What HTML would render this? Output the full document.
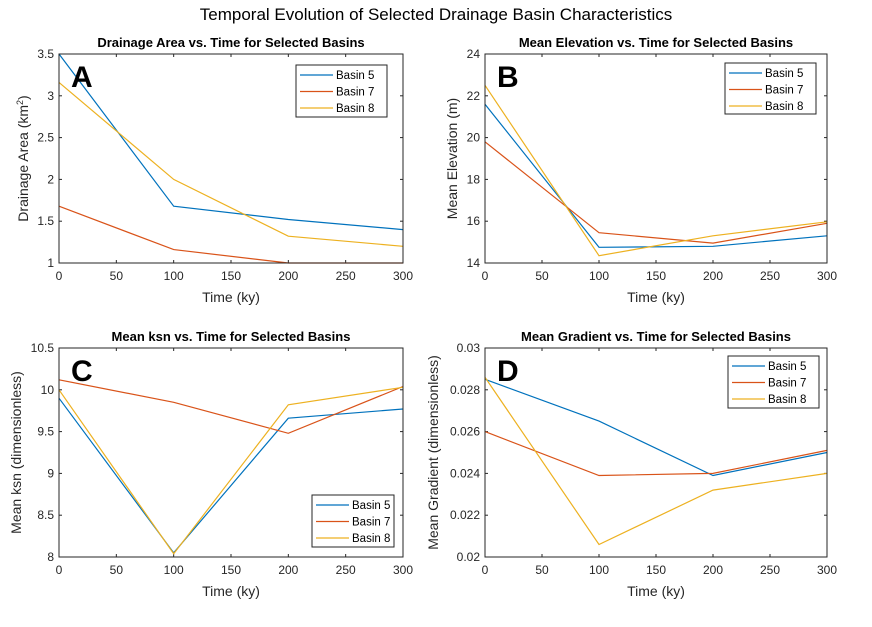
<!DOCTYPE html>
<html><head><meta charset="utf-8"><style>
html,body{margin:0;padding:0;background:#fff;}
svg{display:block;font-family:"Liberation Sans",Arial,sans-serif;}
</style></head><body>
<svg id="fig" width="872" height="627" viewBox="0 0 872 627">
<rect width="872" height="627" fill="#fff"/>
<text x="436" y="20" text-anchor="middle" font-size="17" fill="#000">Temporal Evolution of Selected Drainage Basin Characteristics</text>
</svg>
<script>
const times = [0, 100, 200, 300];
const seriesNames = ["Basin 5", "Basin 7", "Basin 8"];
const colors = ["#0072BD", "#D95319", "#EDB120"];
const xTicks = [0, 50, 100, 150, 200, 250, 300];

const areaB5 = [3.5, 1.68, 1.52, 1.40];
const areaB7 = [1.68, 1.16, 1.0, 1.0];
const areaB8 = [3.16, 2.0, 1.32, 1.20];
const areaTicks = ["1", "1.5", "2", "2.5", "3", "3.5"];

const elevB5 = [21.6, 14.75, 14.8, 15.3];
const elevB7 = [19.8, 15.45, 14.95, 15.9];
const elevB8 = [22.5, 14.35, 15.3, 15.97];
const elevTicks = ["14", "16", "18", "20", "22", "24"];

const ksnB5 = [9.9, 8.05, 9.66, 9.77];
const ksnB7 = [10.12, 9.85, 9.48, 10.04];
const ksnB8 = [10.0, 8.04, 9.82, 10.03];
const ksnTicks = ["8", "8.5", "9", "9.5", "10", "10.5"];

const gradB5 = [0.0285, 0.0265, 0.0239, 0.0250];
const gradB7 = [0.0260, 0.0239, 0.0240, 0.0251];
const gradB8 = [0.0286, 0.0206, 0.0232, 0.0240];
const gradTicks = ["0.02", "0.022", "0.024", "0.026", "0.028", "0.03"];

const NS = "http://www.w3.org/2000/svg";
const svg = document.getElementById("fig");
function mk(tag, attrs, parent, text) {
  const e = document.createElementNS(NS, tag);
  for (const k in attrs) e.setAttribute(k, attrs[k]);
  if (text !== undefined) e.textContent = text;
  (parent || svg).appendChild(e);
  return e;
}

function panel(p) {
  const g = mk("g", {});
  
  
  const ymin = parseFloat(p.yTicks[0]), ymax = parseFloat(p.yTicks[p.yTicks.length - 1]);
  const sx = v => p.x0 + (v - 0) / 300 * (p.x1 - p.x0);
  const sy = v => p.y1 - (v - ymin) / (ymax - ymin) * (p.y1 - p.y0);
  xTicks.forEach(t => {
    const x = sx(t);
    mk("line", {x1: x, x2: x, y1: p.y1, y2: p.y1 - 3, stroke: "#262626", "stroke-width": 1}, g);
    mk("line", {x1: x, x2: x, y1: p.y0, y2: p.y0 + 3, stroke: "#262626", "stroke-width": 1}, g);
    const tl = mk("text", {x: x, y: p.y1 + 17, "text-anchor": "middle", "font-size": 12, fill: "#262626"}, g, String(t));
    
    
  });
  p.yTicks.forEach(t => {
    const y = sy(parseFloat(t));
    mk("line", {x1: p.x0, x2: p.x0 + 3, y1: y, y2: y, stroke: "#262626", "stroke-width": 1}, g);
    mk("line", {x1: p.x1, x2: p.x1 - 3, y1: y, y2: y, stroke: "#262626", "stroke-width": 1}, g);
    const tl = mk("text", {x: p.x0 - 5, y: y + 4, "text-anchor": "end", "font-size": 12, fill: "#262626"}, g, t);
    
    
  });
  p.series.forEach((s, i) => {
    const pts = s.map((v, j) => sx(times[j]).toFixed(1) + "," + sy(v).toFixed(1)).join(" ");
    const pl = mk("polyline", {points: pts, fill: "none", stroke: colors[i], "stroke-width": 1.2}, g);
    
    
  });
  const box = mk("rect", {x: p.x0, y: p.y0, width: p.x1 - p.x0, height: p.y1 - p.y0, fill: "none", stroke: "#262626", "stroke-width": 1}, g);
  
  
  const tt = mk("text", {x: (p.x0 + p.x1) / 2, y: p.y0 - 7, "text-anchor": "middle", "font-size": 13, "font-weight": "bold", fill: "#000"}, g, p.title);
  
  
  const xl = mk("text", {x: (p.x0 + p.x1) / 2, y: p.y1 + 39, "text-anchor": "middle", "font-size": 14, fill: "#262626"}, g, "Time (ky)");
  
  
  const yc = (p.y0 + p.y1) / 2;
  const yl = mk("text", {x: p.ylx, y: yc, "text-anchor": "middle", "font-size": 14, fill: "#262626", transform: "rotate(-90 " + p.ylx + " " + yc + ")"}, g);
  
  
  if (p.sup) {
    mk("tspan", {}, yl, "Drainage Area (km");
    mk("tspan", {"font-size": 9, dy: -5}, yl, "2");
    mk("tspan", {dy: 5}, yl, ")");
  } else yl.textContent = p.ylabel;
  const lt = mk("text", {x: p.x0 + 12, y: p.y0 + 33, "font-size": 30, "font-weight": "bold", fill: "#000"}, g, p.letter);
  
  
  const L = p.leg;
  const lg = mk("g", {}, g);
  
  
  mk("rect", {x: L[0], y: L[1], width: L[2], height: L[3], fill: "#fff", stroke: "#262626", "stroke-width": 1}, lg);
  seriesNames.forEach((n, i) => {
    const yy = L[1] + 10 + i * 16.5;
    const e = mk("g", {}, lg);
    
    
    mk("line", {x1: L[0] + 4, x2: L[0] + 37, y1: yy, y2: yy, stroke: colors[i], "stroke-width": 1.2}, e);
    mk("text", {x: L[0] + 40, y: yy + 4, "font-size": 11.5, fill: "#000"}, e, n);
  });
}

panel({letter: "A", title: "Drainage Area vs. Time for Selected Basins", sup: true, ylx: 28,
  x0: 59, x1: 403, y0: 54, y1: 263, yTicks: areaTicks, series: [areaB5, areaB7, areaB8], leg: [296, 65, 91, 52]});
panel({letter: "B", title: "Mean Elevation vs. Time for Selected Basins", ylabel: "Mean Elevation (m)", ylx: 457,
  x0: 485, x1: 827, y0: 54, y1: 263, yTicks: elevTicks, series: [elevB5, elevB7, elevB8], leg: [725, 63, 91, 51]});
panel({letter: "C", title: "Mean ksn vs. Time for Selected Basins", ylabel: "Mean ksn (dimensionless)", ylx: 21,
  x0: 59, x1: 403, y0: 348, y1: 557, yTicks: ksnTicks, series: [ksnB5, ksnB7, ksnB8], leg: [312, 495, 82, 52]});
panel({letter: "D", title: "Mean Gradient vs. Time for Selected Basins", ylabel: "Mean Gradient (dimensionless)", ylx: 438,
  x0: 485, x1: 827, y0: 348, y1: 557, yTicks: gradTicks, series: [gradB5, gradB7, gradB8], leg: [728, 356, 91, 52]});
</script>
</body></html>
